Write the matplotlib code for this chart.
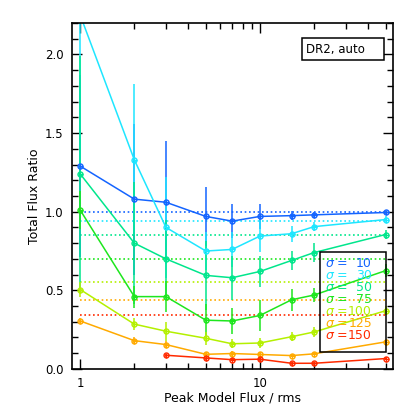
import numpy as np
import matplotlib
matplotlib.use("Agg")
import matplotlib.pyplot as plt
from matplotlib.ticker import FixedLocator, NullFormatter, MultipleLocator, FormatStrFormatter

# ---- data ----
peak_flux = [1, 2, 3, 5, 7, 10, 15, 20, 50]
sigmas = [10, 30, 50, 75, 100, 125, 150]
colors = ["#1464ff", "#1ee6ff", "#00e68c", "#1ee61e", "#b4f000", "#ffaa00", "#ff2a00"]

ratio_s10 = [1.29, 1.08, 1.06, 0.97, 0.94, 0.97, 0.975, 0.98, 0.995]
err_s10 = [0.58, 0.48, 0.39, 0.19, 0.11, 0.08, 0.03, 0.02, 0.01]
ratio_s30 = [2.25, 1.33, 0.90, 0.75, 0.76, 0.845, 0.86, 0.905, 0.95]
err_s30 = [1.00, 0.48, 0.32, 0.12, 0.11, 0.10, 0.05, 0.03, 0.02]
ratio_s50 = [1.24, 0.80, 0.70, 0.595, 0.58, 0.62, 0.69, 0.74, 0.855]
err_s50 = [0.75, 0.39, 0.25, 0.22, 0.14, 0.10, 0.06, 0.06, 0.03]
ratio_s75 = [1.01, 0.46, 0.46, 0.31, 0.305, 0.34, 0.44, 0.47, 0.625]
err_s75 = [0.12, 0.07, 0.10, 0.10, 0.08, 0.10, 0.07, 0.045, 0.04]
ratio_s100 = [0.505, 0.285, 0.24, 0.195, 0.16, 0.165, 0.205, 0.235, 0.37]
err_s100 = [0.05, 0.04, 0.06, 0.04, 0.03, 0.03, 0.03, 0.03, 0.03]
ratio_s125 = [0.305, 0.18, 0.155, 0.093, 0.098, 0.092, 0.085, 0.096, 0.172]
err_s125 = [0.02, 0.02, 0.02, 0.015, 0.015, 0.015, 0.01, 0.01, 0.01]
ratio_s150 = [np.nan, np.nan, 0.087, 0.07, 0.059, 0.062, 0.036, 0.036, 0.066]
err_s150 = [0, 0, 0.01, 0.01, 0.01, 0.01, 0.01, 0.01, 0.01]

expected = [1.0, 0.94, 0.85, 0.70, 0.55, 0.44, 0.34]

ratios = [ratio_s10, ratio_s30, ratio_s50, ratio_s75, ratio_s100, ratio_s125, ratio_s150]
errors = [err_s10, err_s30, err_s50, err_s75, err_s100, err_s125, err_s150]

# ---- figure ----
plt.rcParams['font.family'] = ['DejaVu Sans']
W, H = 415, 415
fig = plt.figure(figsize=(4.15, 4.15), dpi=100)
ax = fig.add_axes([0.1735, 0.111, 0.7735, 0.8335])
ax.set_xscale('log')
ax.set_xlim(0.9, 55)
ax.set_ylim(0, 2.2)

for lvl, c in zip(expected, colors):
    ax.plot([peak_flux[0], peak_flux[-1]], [lvl, lvl], linestyle=(0, (1, 1.6)),
            color=c, lw=1.2, zorder=1)

for r, e, c in zip(ratios, errors, colors):
    r = np.array(r, dtype=float)
    e = np.array(e, dtype=float)
    ax.errorbar(peak_flux, r, yerr=e, color=c, lw=1.1, elinewidth=1.1,
                capsize=0, zorder=2)
    ax.plot(peak_flux, r, 'o', ms=3.6, mfc='none', mec=c, mew=1.0, zorder=3)
    ax.plot(peak_flux, r, '+', ms=3.6, mec=c, mew=0.9, zorder=3)

# ticks
ax.xaxis.set_major_locator(FixedLocator([1, 10]))
ax.xaxis.set_minor_locator(FixedLocator([2, 3, 4, 5, 6, 7, 8, 9, 20, 30, 40, 50]))
ax.xaxis.set_major_formatter(FormatStrFormatter('%d'))
ax.xaxis.set_minor_formatter(NullFormatter())
ax.yaxis.set_major_locator(MultipleLocator(0.5))
ax.yaxis.set_minor_locator(MultipleLocator(0.1))
ax.yaxis.set_major_formatter(FormatStrFormatter('%.1f'))
ax.tick_params(which='both', direction='in', top=True, right=True, labelsize=8.5, width=1)
ax.tick_params(which='major', length=7, pad=6)
ax.tick_params(which='minor', length=4)
for s in ax.spines.values():
    s.set_linewidth(1.2)

ax.set_xlabel('Peak Model Flux / rms', fontsize=9, labelpad=1)
ax.set_ylabel('Total Flux Ratio', fontsize=9, labelpad=3)

# DR2 box
fig.patches.append(plt.Rectangle((302 / W, 1 - 60 / H), 82 / W, 22 / H,
                                 transform=fig.transFigure, fc='white', ec='black',
                                 lw=1.1, zorder=10))
fig.text(306 / W, 1 - 49 / H, 'DR2, auto', fontsize=8.5, ha='left', va='center', zorder=11)

# legend box (transparent)
x0, x1 = 320, 386
y0, y1 = 252, 352
fig.patches.append(plt.Rectangle((x0 / W, 1 - y1 / H), (x1 - x0) / W, (y1 - y0) / H,
                                 transform=fig.transFigure, fill=False, ec='black',
                                 lw=1.1, zorder=10))
for i, (s, c) in enumerate(zip(sigmas, colors)):
    yy = 1 - (263 + 12.1 * i) / H
    fig.text(325 / W, yy, r'$\sigma$ =', color=c, fontsize=9, ha='left', va='center')
    fig.text(372 / W, yy, '%d' % s, color=c, fontsize=9, ha='right', va='center')

fig.savefig('out.png', dpi=100)
